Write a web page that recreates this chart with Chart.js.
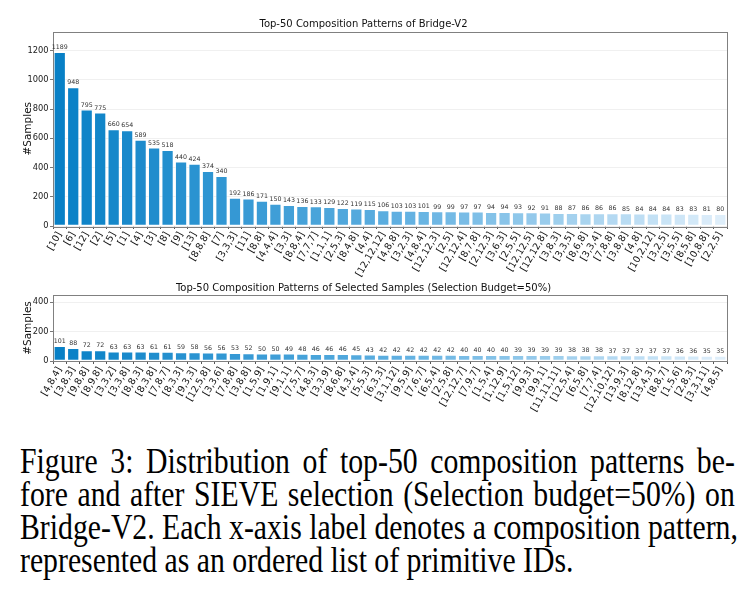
<!DOCTYPE html>
<html lang="en">
<head>
  <meta charset="UTF-8">
  <title>Top-50 Composition Patterns</title>
  <script src="https://cdn.jsdelivr.net/npm/chart.js"></script>
  <style>
    body {
      margin: 0;
      background: #fff;
      width: 748px;
      height: 593px;
      position: relative;
      overflow: hidden;
    }
    canvas {
      position: absolute;
      left: 0;
    }
    #topChart { top: 0; }
    #selChart { top: 280px; }
    .caption {
      position: absolute;
      left: 20px;
      width: 841px;
      top: 445px;
      transform: scaleX(0.85);
      transform-origin: 0 0;
      font-family: "Liberation Serif", "Times New Roman", serif;
      font-size: 35px;
      line-height: 33px;
      color: #000;
    }
    .caption div {
      white-space: nowrap;
      text-align: justify;
      text-align-last: justify;
    }
    .caption div.last {
      text-align-last: left;
    }
  </style>
</head>
<body>
  <canvas id="topChart" width="748" height="280"></canvas>
  <canvas id="selChart" width="748" height="135"></canvas>

  <div class="caption">
    <div>Figure 3: Distribution of top-50 composition patterns be-</div>
    <div>fore and after SIEVE selection (Selection budget=50%) on</div>
    <div>Bridge-V2. Each x-axis label denotes a composition pattern,</div>
    <div class="last">represented as an ordered list of primitive IDs.</div>
  </div>

  <script>
    // Bridge-V2, all samples
    const topLabels = ['[10]', '[6]', '[12]', '[2]', '[5]', '[1]', '[4]', '[3]', '[8]', '[9]',
      '[13]', '[8,8,8]', '[7]', '[3,3,3]', '[11]', '[8,8]', '[4,4,4]', '[3,3]', '[8,8,4]', '[7,7,7]',
      '[1,1,1]', '[2,5,3]', '[8,4,8]', '[4,4]', '[12,12,12]', '[4,8,8]', '[3,2,3]', '[4,8,4]', '[12,12,3]', '[2,5]',
      '[12,12,4]', '[8,7,8]', '[2,12,3]', '[3,6,3]', '[2,5,5]', '[12,12,5]', '[12,12,8]', '[3,8,3]', '[3,3,5]', '[8,6,8]',
      '[3,3,4]', '[7,8,8]', '[3,8,8]', '[4,8]', '[10,2,12]', '[3,2,5]', '[3,5,5]', '[8,5,8]', '[10,8,8]', '[2,2,5]'];
    const topCounts = [1189, 948, 795, 775, 660, 654, 589, 535, 518, 440,
      424, 374, 340, 192, 186, 171, 150, 143, 136, 133,
      129, 122, 119, 115, 106, 103, 103, 101, 99, 99,
      97, 97, 94, 94, 93, 92, 91, 88, 87, 86,
      86, 86, 85, 84, 84, 84, 83, 83, 81, 80];

    // selected samples (budget 50%)
    const selLabels = ['[4,8,4]', '[3,8,3]', '[9,8,8]', '[8,9,8]', '[3,3,2]', '[3,3,8]', '[8,8,3]', '[8,3,8]', '[7,8,7]', '[8,3,3]',
      '[9,3,3]', '[12,5,8]', '[3,3,6]', '[7,8,8]', '[3,8,8]', '[1,5,9]', '[1,9,1]', '[9,1,1]', '[7,5,7]', '[4,8,3]',
      '[3,3,9]', '[8,6,8]', '[4,3,4]', '[5,5,3]', '[6,3,3]', '[3,1,12]', '[9,5,9]', '[7,6,7]', '[6,5,4]', '[2,5,8]',
      '[12,12,7]', '[7,9,7]', '[1,5,4]', '[1,12,9]', '[1,5,12]', '[9,9,3]', '[9,9,1]', '[11,11,11]', '[12,5,4]', '[6,5,8]',
      '[7,7,4]', '[12,10,12]', '[13,9,3]', '[8,12,8]', '[13,4,3]', '[8,8,7]', '[1,5,6]', '[2,8,3]', '[3,3,11]', '[4,8,5]'];
    const selCounts = [101, 88, 72, 72, 63, 63, 63, 61, 61, 59,
      58, 56, 56, 53, 52, 50, 50, 49, 48, 46,
      46, 46, 45, 43, 42, 42, 42, 42, 42, 42,
      40, 40, 40, 40, 39, 39, 39, 39, 38, 38,
      38, 37, 37, 37, 37, 37, 36, 36, 35, 35];

    const FONT = '"DejaVu Sans", sans-serif';

    // dark blue -> light blue, one colour per bar position
    function barColors(n) {
      const stops = [[8, 128, 198], [92, 174, 224], [222, 238, 250]];
      const out = [];
      for (let i = 0; i < n; i++) {
        const t = i / (n - 1);
        const a = t < 0.5 ? stops[0] : stops[1];
        const b = t < 0.5 ? stops[1] : stops[2];
        const u = t < 0.5 ? t * 2 : (t - 0.5) * 2;
        const c = a.map((v, k) => Math.round(v + (b[k] - v) * u));
        out.push(`rgb(${c[0]},${c[1]},${c[2]})`);
      }
      return out;
    }

    // box around the plot area
    const frame = {
      id: 'frame',
      afterDraw(chart) {
        const a = chart.chartArea;
        const ctx = chart.ctx;
        ctx.save();
        ctx.strokeStyle = '#808080';
        ctx.lineWidth = 1;
        ctx.strokeRect(Math.round(a.left) + 0.5, Math.round(a.top) + 0.5,
          Math.round(a.right - a.left), Math.round(a.bottom - a.top));
        ctx.restore();
      }
    };

    // count written above each bar (after the frame so it sits on top)
    const valueLabels = {
      id: 'valueLabels',
      afterDraw(chart) {
        const ctx = chart.ctx;
        const meta = chart.getDatasetMeta(0);
        const vals = chart.data.datasets[0].data;
        ctx.save();
        ctx.font = '6.3px ' + FONT;
        ctx.fillStyle = '#333';
        ctx.textAlign = 'center';
        ctx.textBaseline = 'bottom';
        meta.data.forEach((bar, i) => ctx.fillText(vals[i], bar.x, bar.y - 1.5));
        ctx.restore();
      }
    };

    function makeChart(id, labels, counts, title, yMax, titlePad, xHeight) {
      return new Chart(document.getElementById(id), {
        type: 'bar',
        data: {
          labels: labels,
          datasets: [{
            data: counts,
            backgroundColor: barColors(counts.length),
            borderColor: 'rgba(255,255,255,0.8)',
            borderWidth: 0.8,
            borderSkipped: false,
            barPercentage: 0.88,
            categoryPercentage: 1
          }]
        },
        options: {
          responsive: false,
          animation: false,
          layout: { padding: { left: 0, right: 21, top: 0, bottom: 0 } },
          plugins: {
            legend: { display: false },
            tooltip: { enabled: false },
            title: {
              display: true,
              text: title,
              color: '#111',
              font: { family: FONT, size: 10, weight: 'normal' },
              padding: titlePad
            }
          },
          scales: {
            x: {
              offset: true,
              grid: { display: true, drawOnChartArea: false, tickLength: 3, tickColor: '#555' },
              border: { display: false },
              ticks: {
                autoSkip: false,
                minRotation: 60,
                maxRotation: 60,
                padding: 1,
                color: '#111',
                font: { family: FONT, size: 9.5 }
              },
              afterFit(scale) { scale.height = xHeight; }
            },
            y: {
              min: 0,
              max: yMax,
              grid: { color: '#ececec', lineWidth: 0.8, tickLength: 3, tickColor: '#555' },
              border: { display: false },
              ticks: {
                stepSize: 200,
                includeBounds: false,
                padding: 1.5,
                color: '#222',
                font: { family: FONT, size: 8.3 },
                callback: (v) => String(v)
              },
              title: {
                display: true,
                text: '#Samples',
                color: '#111',
                font: { family: FONT, size: 10.5 },
                padding: { top: 21.5, bottom: 0 }
              },
              afterFit(scale) { scale.width = 53; }
            }
          }
        },
        plugins: [frame, valueLabels]
      });
    }

    makeChart('topChart', topLabels, topCounts,
      'Top-50 Composition Patterns of Bridge-V2', 1330, { top: 18, bottom: 1.5 }, 54);
    makeChart('selChart', selLabels, selCounts,
      'Top-50 Composition Patterns of Selected Samples (Selection Budget=50%)', 450, { top: 2, bottom: 1 }, 54);
  </script>
</body>
</html>
